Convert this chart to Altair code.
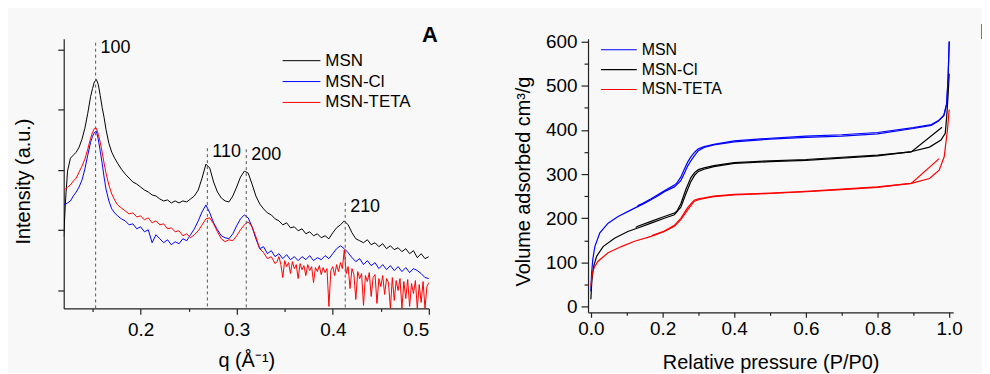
import altair as alt
import pandas as pd

FONT = "Liberation Sans"

# ---------------- Panel A : SAXS patterns ----------------
q = [0.120, 0.122, 0.124, 0.127, 0.130, 0.133, 0.136, 0.139, 0.142, 0.145, 0.148, 0.150, 0.152, 0.154,
     0.156, 0.158, 0.160, 0.162, 0.164, 0.167, 0.170, 0.173, 0.176, 0.180, 0.184, 0.188, 0.192, 0.196, 0.200,
     0.204, 0.208, 0.212, 0.216, 0.220, 0.224, 0.228, 0.232, 0.236, 0.240, 0.244, 0.248, 0.252, 0.256, 0.260,
     0.264, 0.268, 0.272, 0.276, 0.280, 0.284, 0.288, 0.292, 0.296, 0.300, 0.304, 0.308, 0.312, 0.316, 0.320,
     0.324, 0.328, 0.332, 0.336, 0.340, 0.344, 0.348, 0.352, 0.356, 0.360, 0.364, 0.368, 0.372, 0.376, 0.380,
     0.384, 0.388, 0.392, 0.396, 0.400, 0.404, 0.408, 0.412, 0.416, 0.420, 0.424, 0.428, 0.432, 0.436, 0.440,
     0.444, 0.448, 0.452, 0.456, 0.460, 0.464, 0.468, 0.472, 0.476, 0.480, 0.484, 0.488, 0.492, 0.496, 0.500]

msn_a = [72, 110, 138, 151, 154, 157, 162, 170, 181, 196, 213, 221, 228, 230, 225, 214, 202, 192, 180, 166,
         157, 151, 146, 140, 135, 131, 127, 125, 122,
         119, 117, 114, 113, 110, 108, 109, 106, 108, 106, 108, 107, 110, 113, 119, 131, 145, 141, 127, 117,
         111, 108, 107, 113, 122, 132, 138, 136, 125, 113, 105, 100, 96, 94, 90, 88, 84, 86, 81, 82,
         78, 80, 75, 77, 73, 75, 71, 73, 70, 76, 81, 84, 88, 84, 76, 70, 68, 66, 69, 64,
         66, 62, 65, 60, 63, 59, 61, 57, 60, 55, 58, 51, 55, 50, 52]

msncl_a = [104, 105, 106, 108, 113, 117, 122, 129, 140, 154, 167, 173, 177, 178, 170, 158, 146, 132, 120, 108,
           100, 96, 93, 90, 88, 84, 85, 80, 82,
           77, 79, 66, 74, 70, 66, 69, 64, 67, 65, 70, 68, 74, 80, 88, 97, 104, 96, 86, 79,
           73, 71, 70, 75, 83, 90, 94, 91, 82, 70, 60, 62, 55, 58, 52, 55, 50, 54, 49, 52,
           48, 52, 49, 53, 48, 51, 49, 53, 50, 55, 60, 63, 60, 56, 51, 47, 50, 44, 48, 43,
           46, 40, 44, 39, 43, 38, 42, 37, 41, 36, 40, 38, 35, 31, 30]

# MSN-TETA: same q grid up to 0.340, then a finer, noisy tail
teta_head = [119, 120, 122, 124, 128, 131, 137, 143, 150, 160, 171, 177, 181, 181, 175, 167, 157, 146, 136, 124,
             115, 109, 104, 101, 98, 95, 96, 92, 93,
             89, 91, 86, 88, 84, 85, 80, 81, 77, 78, 73, 75, 71, 74, 78, 84, 90, 91, 85, 77,
             70, 67, 69, 68, 73, 79, 84, 87, 82, 72, 60, 56, 50, 52, 45]
teta_tail_q = [0.342, 0.344, 0.346, 0.348, 0.350, 0.352, 0.354, 0.356, 0.358, 0.360, 0.362, 0.364, 0.366,
               0.368, 0.370, 0.372, 0.374, 0.376, 0.378, 0.380, 0.382, 0.384, 0.386, 0.388, 0.390, 0.392,
               0.394, 0.396, 0.398, 0.400, 0.402, 0.404, 0.406, 0.408, 0.410, 0.412, 0.414, 0.416, 0.418,
               0.420, 0.422, 0.424, 0.426, 0.428, 0.430, 0.432, 0.434, 0.436, 0.438, 0.440, 0.442, 0.444,
               0.446, 0.448, 0.450, 0.452, 0.454, 0.456, 0.458, 0.460, 0.462, 0.464, 0.466, 0.468, 0.470,
               0.472, 0.474, 0.476, 0.478, 0.480, 0.482, 0.484, 0.486, 0.488, 0.490, 0.492, 0.494, 0.496,
               0.498, 0.500]
teta_tail = [47, 52, 44, 31, 48, 42, 46, 35, 47, 40, 44, 30, 45,
             39, 43, 33, 44, 38, 42, 26, 41, 37, 43, 34, 41, 36,
             40, 2, 38, 42, 33, 44, 37, 46, 40, 59, 35, 42, 20,
             40, 34, 9, 37, 30, 35, 3, 33, 27, 36, 12, 31, 34,
             5, 30, 22, 33, 14, 30, 26, 0, 31, 8, 28, 18, 30,
             0, 27, 10, 29, 2, 25, 15, 28, 0, 24, 6, 27, 0,
             22, 26]

series_names = ["MSN", "MSN-Cl", "MSN-TETA"]
colors_a = ["#000000", "#0000ff", "#ff0000"]

peak_q = [0.1532, 0.2695, 0.3100, 0.4130]
peak_top = [267, 161, 160, 106]
peak_label_y = [257, 152, 149, 97]
peak_labels = ["100", "110", "200", "210"]

a_x_ticks = [0.2, 0.3, 0.4, 0.5]
a_x_minor = [0.15, 0.25, 0.35, 0.45]
a_y_ticks = [18, 79, 139, 200, 260]

# ---------------- Panel B : N2 isotherms ----------------
msn_ads_p = [0.0, 0.002, 0.005, 0.011, 0.025, 0.048, 0.076, 0.1, 0.122, 0.145, 0.168, 0.19, 0.205, 0.233,
             0.251, 0.26, 0.27, 0.279, 0.29, 0.3, 0.316, 0.343, 0.4, 0.5, 0.6, 0.7, 0.8, 0.9, 0.95, 0.97,
             0.985, 0.993, 0.997, 1.0]
msn_ads_v = [35, 75, 105, 136, 167, 189, 204, 214, 223, 232, 242, 252, 260, 271,
             285, 300, 318, 330, 343, 353, 360, 366, 373, 379, 383, 386, 391, 403, 410, 420,
             433, 460, 520, 600]
msn_des_p = [1.0, 0.997, 0.993, 0.985, 0.97, 0.95, 0.9, 0.8, 0.7, 0.6, 0.5, 0.4, 0.343, 0.316, 0.3,
             0.29, 0.279, 0.27, 0.26, 0.251, 0.24, 0.233, 0.205, 0.168, 0.145, 0.13]
msn_des_v = [600, 520, 458, 432, 421, 412, 405, 394, 389, 386, 381, 375, 367, 362, 357,
             350, 339, 327, 310, 293, 280, 275, 262, 244, 234, 228]

cl_ads_p = [0.0, 0.002, 0.004, 0.008, 0.016, 0.034, 0.066, 0.103, 0.131, 0.168, 0.205, 0.233, 0.251, 0.265,
            0.279, 0.29, 0.3, 0.316, 0.343, 0.4, 0.5, 0.6, 0.7, 0.8, 0.89, 0.945, 0.977, 0.989, 0.993,
            0.997, 1.0]
cl_ads_v = [17, 50, 69, 92, 114, 136, 155, 170, 178, 189, 200, 208, 225, 255,
            283, 298, 306, 311, 317, 324, 328, 331, 336, 341, 350, 361, 377, 392, 430,
            480, 527]
cl_des_p = [0.98, 0.894, 0.8, 0.7, 0.6, 0.5, 0.4, 0.343, 0.316, 0.3, 0.29, 0.279, 0.265, 0.251, 0.24,
            0.233, 0.205, 0.168, 0.131, 0.125]
cl_des_v = [406, 350, 343, 338, 333, 330, 326, 319, 314, 310, 304, 292, 265, 233, 216,
            212, 204, 193, 182, 179]

teta_ads_p = [0.0, 0.002, 0.004, 0.01, 0.02, 0.048, 0.085, 0.122, 0.168, 0.205, 0.233, 0.251, 0.27, 0.288,
              0.3, 0.316, 0.343, 0.4, 0.5, 0.6, 0.7, 0.8, 0.894, 0.945, 0.972, 0.986, 0.995, 1.0]
teta_ads_v = [46, 62, 76, 90, 103, 122, 136, 148, 159, 170, 182, 197, 219, 238,
              242, 245, 249, 253, 256, 260, 265, 270, 279, 290, 309, 339, 399, 446]
teta_des_p = [0.972, 0.894, 0.8, 0.7, 0.6, 0.5, 0.4, 0.343, 0.316, 0.3, 0.288, 0.27, 0.251, 0.233,
              0.205, 0.17]
teta_des_v = [335, 279, 271, 266, 261, 257, 254, 250, 246, 244, 241, 224, 200, 184,
              171, 161]

colors_b = ["#0000ff", "#000000", "#ff0000"]

b_x_ticks = [0.0, 0.2, 0.4, 0.6, 0.8, 1.0]
b_x_minor = [0.1, 0.3, 0.5, 0.7, 0.9]
b_y_ticks = [0, 100, 200, 300, 400, 500, 600]
b_y_minor = [50, 150, 250, 350, 450, 550]


def frame(xs, ys, name, xk, yk):
    return pd.DataFrame({xk: xs, yk: ys, "series": name, "i": list(range(len(xs)))})


dfA = pd.concat([
    frame(q, msn_a, "MSN", "q", "I"),
    frame(q, msncl_a, "MSN-Cl", "q", "I"),
    frame(q[:len(teta_head)] + teta_tail_q, teta_head + teta_tail, "MSN-TETA", "q", "I"),
])
dfPeaks = pd.DataFrame({"q": peak_q, "top": peak_top, "ly": peak_label_y, "label": peak_labels})

dfB_ads = pd.concat([
    frame(msn_ads_p, msn_ads_v, "MSN", "p", "v"),
    frame(cl_ads_p, cl_ads_v, "MSN-Cl", "p", "v"),
    frame(teta_ads_p, teta_ads_v, "MSN-TETA", "p", "v"),
])
dfB_des = pd.concat([
    frame(msn_des_p, msn_des_v, "MSN", "p", "v"),
    frame(cl_des_p, cl_des_v, "MSN-Cl", "p", "v"),
    frame(teta_des_p, teta_des_v, "MSN-TETA", "p", "v"),
])

# ---------------- Panel A chart ----------------
WA, HA = 367, 271
xA = alt.Scale(domain=[0.12, 0.5], nice=False, zero=False)
yA = alt.Scale(domain=[0, 271], nice=False, zero=False)
colA = alt.Color("series:N", scale=alt.Scale(domain=series_names, range=colors_a), legend=None)

linesA = alt.Chart(dfA).mark_line(strokeWidth=1, clip=True).encode(
    x=alt.X("q:Q", scale=xA, axis=alt.Axis(values=a_x_ticks, format=".1f", tickSize=6, labelPadding=21,
                                           labelBaseline="alphabetic", title="q (Å⁻¹)", titleY=58,
                                           titleBaseline="alphabetic", orient="bottom", grid=False)),
    y=alt.Y("I:Q", scale=yA, axis=alt.Axis(values=a_y_ticks, labels=False, tickSize=6,
                                           title="Intensity (a.u.)", titleX=-34, titleY=143,
                                           titleBaseline="alphabetic", orient="left", grid=False)),
    color=colA,
    order="i:Q",
)

rulesA = alt.Chart(dfPeaks).mark_rule(strokeDash=[3, 3], color="#555555", strokeWidth=1).encode(
    x=alt.X("q:Q", scale=xA, axis=alt.Axis(values=a_x_minor, labels=False, tickSize=3, domain=False,
                                           title=None, orient="bottom", grid=False)),
    y=alt.Y("top:Q", scale=yA, axis=None),
    y2=alt.datum(0),
)

plabA = alt.Chart(dfPeaks).mark_text(align="left", baseline="alphabetic", dx=5, fontSize=18,
                                     font=FONT, color="black").encode(
    x=alt.X("q:Q", scale=xA, axis=None),
    y=alt.Y("ly:Q", scale=yA, axis=None),
    text="label:N",
)

legA = []
for k, (name, col) in enumerate(zip(series_names, colors_a)):
    d = pd.DataFrame({"t": [name]})
    legA.append(alt.Chart(d).mark_rule(color=col, strokeWidth=1).encode(
        x=alt.value(220), x2=alt.value(258), y=alt.value(22 + 21 * k)))
    legA.append(alt.Chart(d).mark_text(align="left", baseline="middle", fontSize=17, font=FONT,
                                       color="black").encode(
        x=alt.value(263), y=alt.value(22 + 21 * k), text="t:N"))

tagA = alt.Chart(pd.DataFrame({"t": ["A"]})).mark_text(
    align="right", baseline="alphabetic", fontSize=22, fontWeight="bold", font=FONT, color="black"
).encode(x=alt.value(376), y=alt.value(3), text="t:N")

panelA = alt.layer(linesA, rulesA, plabA, *legA, tagA).resolve_axis(
    x="independent", y="independent").properties(width=WA, height=HA)

# ---------------- Panel B chart ----------------
WB, HB = 367, 275
xB = alt.Scale(domain=[-0.008, 1.011], nice=False, zero=False)
yB = alt.Scale(domain=[-12.8, 606], nice=False, zero=False)
colB = alt.Color("series:N", scale=alt.Scale(domain=series_names, range=colors_b), legend=None)

adsB = alt.Chart(dfB_ads).mark_line(strokeWidth=1.2).encode(
    x=alt.X("p:Q", scale=xB, axis=alt.Axis(values=b_x_ticks, format=".1f", tickSize=5, labelPadding=17,
                                           labelBaseline="alphabetic", title="Relative pressure (P/P0)",
                                           titleY=56, titleBaseline="alphabetic", orient="bottom",
                                           grid=False)),
    y=alt.Y("v:Q", scale=yB, axis=alt.Axis(values=b_y_ticks, tickSize=7, labelPadding=4,
                                           title="Volume adsorbed cm³/g", titleX=-59, titleY=143,
                                           titleBaseline="alphabetic", orient="left", grid=False)),
    color=colB,
    order="i:Q",
)

desB = alt.Chart(dfB_des).mark_line(strokeWidth=1.2).encode(
    x=alt.X("p:Q", scale=xB, axis=alt.Axis(values=b_x_minor, labels=False, tickSize=3, domain=False,
                                           title=None, orient="bottom", grid=False)),
    y=alt.Y("v:Q", scale=yB, axis=alt.Axis(values=b_y_minor, labels=False, tickSize=4, domain=False,
                                           title=None, orient="left", grid=False)),
    color=colB,
    order="i:Q",
)

legB = []
for k, (name, col) in enumerate(zip(series_names, colors_b)):
    d = pd.DataFrame({"t": [name]})
    legB.append(alt.Chart(d).mark_rule(color=col, strokeWidth=1.2).encode(
        x=alt.value(13), x2=alt.value(49), y=alt.value(11 + 20 * k)))
    legB.append(alt.Chart(d).mark_text(align="left", baseline="middle", fontSize=16, font=FONT,
                                       color="black").encode(
        x=alt.value(54), y=alt.value(11 + 20 * k), text="t:N"))

tagB = alt.Chart(pd.DataFrame({"t": ["B"]})).mark_text(
    align="left", baseline="alphabetic", fontSize=22, fontWeight="bold", font=FONT, color="black"
).encode(x=alt.value(394), y=alt.value(0), text="t:N")

panelB = alt.layer(adsB, desB, *legB, tagB).resolve_axis(x="independent", y="independent").properties(
    width=WB, height=HB)

chart = alt.hconcat(panelA, panelB, spacing=75).resolve_scale(color="independent").properties(
    padding={"left": 6, "top": 12, "right": -14, "bottom": 0},
    background="#f8f8f8",
).configure_axis(
    labelFont=FONT, titleFont=FONT, labelFontSize=19, titleFontSize=20, labelColor="black",
    titleColor="black", titleFontWeight="normal", domainColor="#222222", tickColor="#222222",
    domainWidth=1.2, tickWidth=1.2, grid=False,
).configure_view(stroke=None)

chart.save("out.html", embed_options={"renderer": "svg", "actions": False})
